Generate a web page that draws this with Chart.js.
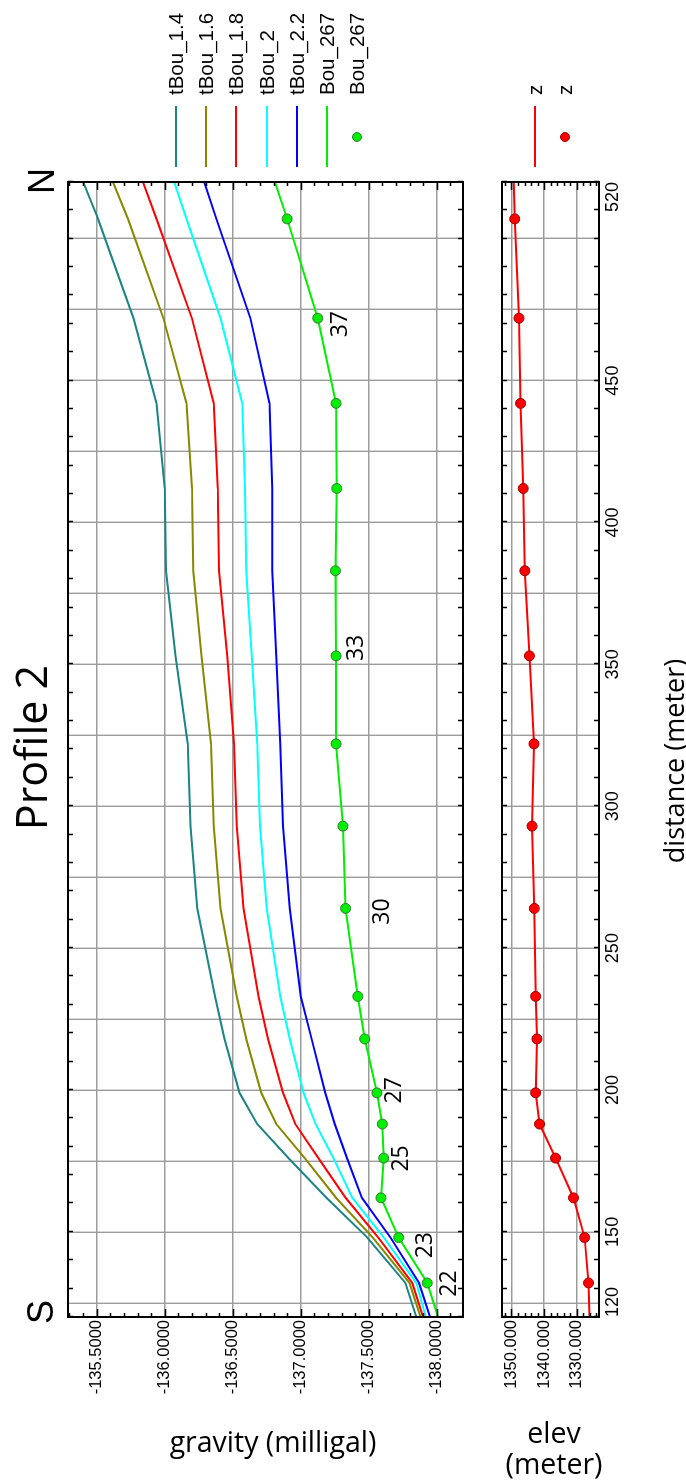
<!DOCTYPE html>
<html><head><meta charset="utf-8">
<script src="https://cdn.jsdelivr.net/npm/chart.js@4.4.1/dist/chart.umd.min.js"></script>
<style>
html,body{margin:0;padding:0;background:#fff;}
body{width:686px;height:1481px;position:relative;overflow:hidden;}
#land{position:absolute;left:0;top:0;width:1481px;height:686px;transform-origin:0 0;transform:translate(0px,1481px) rotate(-90deg);}
.t{position:absolute;white-space:nowrap;line-height:1;color:#000;}
.c{transform:translate(-50%,-50%);}
canvas{position:absolute;left:0;}
.lg-line{position:absolute;height:2px;}
.lg-dot{position:absolute;width:10px;height:10px;border-radius:50%;box-sizing:border-box;}
</style></head><body>
<div id="land">
  <canvas id="main" width="1481" height="480" style="top:0"></canvas>
  <canvas id="elev" width="1481" height="206" style="top:480px"></canvas>
  <div id="legend"></div>
  <div class="t c" style="left:733.5px;top:30px;font:43px 'Open Sans';">Profile 2</div>
  <div class="t c" style="left:169px;top:41px;font:36px 'Liberation Sans';">S</div>
  <div class="t c" style="left:1300px;top:42px;font:36px 'Liberation Sans';">N</div>
  <div class="t c" style="left:720px;top:673px;font:27px 'Open Sans';">distance (meter)</div>
</div>
<div class="t c" style="left:273px;top:1441px;font:28.5px 'Open Sans';">gravity (milligal)</div>
<div class="t c" style="left:554px;top:1432px;font:28.5px 'Open Sans';">elev</div>
<div class="t c" style="left:554px;top:1463px;font:28.5px 'Open Sans';">(meter)</div>
<script>
// ---------- data ----------
const distance   = [120,132,148,162,176,188,199,218,233,264,293,322,353,383,412,442,472,507,520];
const tBou_1_4   = [-137.85,-137.77,-137.49,-137.19,-136.91,-136.68,-136.55,-136.44,-136.37,-136.24,-136.19,-136.17,-136.08,-136.01,-136.00,-135.94,-135.77,-135.51,-135.40];
const tBou_1_6   = [-137.88,-137.80,-137.53,-137.26,-137.03,-136.82,-136.71,-136.60,-136.53,-136.41,-136.36,-136.34,-136.27,-136.21,-136.20,-136.16,-135.99,-135.73,-135.62];
const tBou_1_8   = [-137.90,-137.82,-137.57,-137.33,-137.13,-136.96,-136.87,-136.76,-136.69,-136.58,-136.53,-136.51,-136.46,-136.40,-136.39,-136.36,-136.20,-135.94,-135.84];
const tBou_2     = [-137.92,-137.85,-137.61,-137.38,-137.24,-137.11,-137.02,-136.92,-136.85,-136.75,-136.70,-136.68,-136.64,-136.60,-136.59,-136.57,-136.41,-136.16,-136.07];
const tBou_2_2   = [-137.95,-137.87,-137.66,-137.45,-137.34,-137.25,-137.18,-137.08,-137.00,-136.92,-136.87,-136.85,-136.82,-136.79,-136.79,-136.77,-136.63,-136.38,-136.29];
const bou267Line = [-138.01,-137.93,-137.72,-137.59,-137.61,-137.60,-137.56,-137.47,-137.42,-137.33,-137.31,-137.26,-137.26,-137.255,-137.265,-137.26,-137.125,-136.90,-136.81];
const elevLine   = [1326.1,1326.4,1327.6,1331.0,1336.5,1341.4,1342.6,1342.2,1342.6,1343.0,1343.7,1343.1,1344.5,1345.9,1346.4,1347.2,1347.7,1349.0,1349.3];

const stationDist = [132,148,162,176,188,199,218,233,264,293,322,353,383,412,442,472,507];
const bou267Obs   = [-137.93,-137.72,-137.59,-137.61,-137.60,-137.56,-137.47,-137.42,-137.33,-137.31,-137.26,-137.26,-137.255,-137.265,-137.26,-137.125,-136.90];
const elevObs     = [1326.4,1327.6,1331.0,1336.5,1341.4,1342.6,1342.2,1342.6,1343.0,1343.7,1343.1,1344.5,1345.9,1346.4,1347.2,1347.7,1349.0];

const stationLabels = ['22','23','25','27','30','33','37'];
const labelDist     = [131.8,145.3,175.9,199.9,262.9,355.8,469.9];
const labelGrav     = [-138.097,-137.914,-137.74,-137.69,-137.60,-137.41,-137.29];

const gravityTicks   = [-138,-137.5,-137,-136.5,-136,-135.5];
const elevTicks      = [1330,1340,1350];
const distanceGrid   = [125,150,175,200,225,250,275,300,325,350,375,400,425,450,475,500];
const distanceLabels = [120,150,200,250,300,350,400,450,520];

const seriesNames  = ['tBou_1.4','tBou_1.6','tBou_1.8','tBou_2','tBou_2.2','Bou_267'];
const seriesColors = ['#1b8585','#878700','#ff0000','#00ffff','#0000ff','#00ee00'];

// ---------- helpers ----------
Chart.defaults.font.family = "'Liberation Sans', Arial, sans-serif";
Chart.defaults.color = '#000';
const pts = (xs, ys) => xs.map((x, i) => ({x, y: ys[i]}));
const GRID = '#9c9c9c';

const framePlugin = {
  id: 'frame',
  afterDraw(chart, args, o) {
    const {ctx, chartArea: a, scales} = chart;
    const xs = scales.x, ys = scales.y;
    ctx.save();
    ctx.strokeStyle = '#000';
    ctx.lineWidth = 1.5;
    ctx.beginPath();
    for (let v = xs.min; v <= xs.max + 1e-9; v += o.xStep) {
      const p = Math.round(xs.getPixelForValue(v)) + 0.5;
      ctx.moveTo(p, a.top); ctx.lineTo(p, a.top + 5);
      ctx.moveTo(p, a.bottom); ctx.lineTo(p, a.bottom - 5);
    }
    const start = Math.ceil(ys.min / o.yStep - 1e-9) * o.yStep;
    for (let v = start; v <= ys.max + 1e-9; v += o.yStep) {
      const r = v / o.yMajor;
      const major = Math.abs(r - Math.round(r)) < 1e-6;
      const len = major ? 8 : 4;
      const p = Math.round(ys.getPixelForValue(v)) + 0.5;
      ctx.moveTo(a.left, p); ctx.lineTo(a.left + len, p);
      ctx.moveTo(a.right, p); ctx.lineTo(a.right - len, p);
    }
    ctx.stroke();
    ctx.lineWidth = 2;
    ctx.strokeRect(a.left, a.top, a.right - a.left, a.bottom - a.top);
    ctx.restore();
  }
};

const labelPlugin = {
  id: 'stationLabels',
  afterDatasetsDraw(chart) {
    const {ctx, scales} = chart;
    ctx.save();
    ctx.font = "23px 'Open Sans'";
    ctx.fillStyle = '#000';
    ctx.textAlign = 'center';
    ctx.textBaseline = 'middle';
    stationLabels.forEach((t, i) => {
      ctx.fillText(t, scales.x.getPixelForValue(labelDist[i]), scales.y.getPixelForValue(labelGrav[i]));
    });
    ctx.restore();
  }
};

// ---------- main gravity chart ----------
const lineSeries = [tBou_1_4, tBou_1_6, tBou_1_8, tBou_2, tBou_2_2, bou267Line];
const mainDatasets = [{
  label: 'Bou_267', type: 'line', data: pts(stationDist, bou267Obs), showLine: false,
  pointRadius: 5, pointBackgroundColor: '#00ee00', pointBorderColor: '#3a7a3a', pointBorderWidth: 1, order: 0
}].concat(lineSeries.map((s, i) => ({
  label: seriesNames[i], data: pts(distance, s), borderColor: seriesColors[i],
  borderWidth: 2, pointRadius: 0, tension: 0, order: 1
})));

new Chart(document.getElementById('main'), {
  type: 'line',
  data: {datasets: mainDatasets},
  options: {
    responsive: false, animation: false,
    layout: {padding: {top: 68, right: 182, bottom: 17, left: 0}},
    plugins: {legend: {display: false}, tooltip: {enabled: false},
      frame: {xStep: 10, yStep: 0.1, yMajor: 0.5}},
    scales: {
      x: {type: 'linear', min: 120, max: 520,
        afterBuildTicks: s => { s.ticks = distanceGrid.map(v => ({value: v})); },
        afterFit: s => { s.height = 0; },
        ticks: {display: false},
        grid: {color: GRID, lineWidth: 1.4, drawTicks: false},
        border: {display: false}},
      y: {type: 'linear', min: -138.193, max: -135.289,
        afterBuildTicks: s => { s.ticks = gravityTicks.map(v => ({value: v})); },
        afterFit: s => { s.width = 164; },
        ticks: {font: {size: 16.5}, color: '#000', padding: 3, callback: v => Number(v).toFixed(4)},
        grid: {color: GRID, lineWidth: 1.4, drawTicks: false},
        border: {display: false}}
    }
  },
  plugins: [framePlugin, labelPlugin]
});

// ---------- elevation chart ----------
new Chart(document.getElementById('elev'), {
  type: 'line',
  data: {datasets: [
    {label: 'z', type: 'line', data: pts(stationDist, elevObs), showLine: false,
      pointRadius: 5, pointBackgroundColor: '#ff0000', pointBorderColor: '#990000', pointBorderWidth: 1, order: 0},
    {label: 'z', data: pts(distance, elevLine), borderColor: '#ff0000', borderWidth: 2, pointRadius: 0, order: 1}
  ]},
  options: {
    responsive: false, animation: false,
    layout: {padding: {top: 22, right: 182, bottom: 0, left: 0}},
    plugins: {legend: {display: false}, tooltip: {enabled: false},
      frame: {xStep: 10, yStep: 2, yMajor: 10}},
    scales: {
      x: {type: 'linear', min: 120, max: 520, position: 'bottom',
        afterBuildTicks: s => { s.ticks = distanceGrid.map(v => ({value: v})); },
        afterFit: s => { s.height = 0; },
        ticks: {display: false},
        grid: {color: GRID, lineWidth: 1.4, drawTicks: false},
        border: {display: false}},
      xl: {type: 'linear', min: 120, max: 520, position: 'bottom',
        afterBuildTicks: s => { s.ticks = distanceLabels.map(v => ({value: v})); },
        afterFit: s => { s.height = 87; },
        ticks: {font: {size: 18}, color: '#000', padding: 3, align: 'inner', maxRotation: 0, autoSkip: false},
        grid: {display: false, drawTicks: false},
        border: {display: false}},
      y: {type: 'linear', min: 1323.2, max: 1352.9,
        afterBuildTicks: s => { s.ticks = elevTicks.map(v => ({value: v})); },
        afterFit: s => { s.width = 164; },
        ticks: {font: {size: 16.5}, color: '#000', padding: 3, callback: v => Number(v).toFixed(3)},
        grid: {color: GRID, lineWidth: 1.4, drawTicks: false},
        border: {display: false}}
    }
  },
  plugins: [framePlugin]
});

// ---------- legend (landscape coords inside rotated box) ----------
const legendItems = seriesNames.map((n, i) => ({name: n, color: seriesColors[i], kind: 'line'}))
  .concat([{name: 'Bou_267', color: '#00ee00', border: '#3a7a3a', kind: 'dot'},
           {name: 'z', color: '#ff0000', kind: 'line', gap: true},
           {name: 'z', color: '#ff0000', border: '#990000', kind: 'dot'}]);
const lg = document.getElementById('legend');
let ly = 175.7;
legendItems.forEach((it, i) => {
  if (it.gap) ly = 535;
  else if (i > 0) ly += 30.27;
  if (i === 8) ly = 565;
  if (it.kind === 'line') {
    const d = document.createElement('div');
    d.className = 'lg-line';
    d.style.cssText += `left:1314px;top:${ly - 1}px;width:61px;background:${it.color};`;
    lg.appendChild(d);
  } else {
    const d = document.createElement('div');
    d.className = 'lg-dot';
    d.style.cssText += `left:${1344.3 - 5}px;top:${ly - 5}px;background:${it.color};border:1px solid ${it.border};`;
    lg.appendChild(d);
  }
  const t = document.createElement('div');
  t.className = 't';
  t.textContent = it.name;
  t.style.cssText += `left:1386px;top:${ly}px;transform:translateY(-50%);font:20.5px 'Liberation Sans';`;
  lg.appendChild(t);
});
</script>
</body></html>
